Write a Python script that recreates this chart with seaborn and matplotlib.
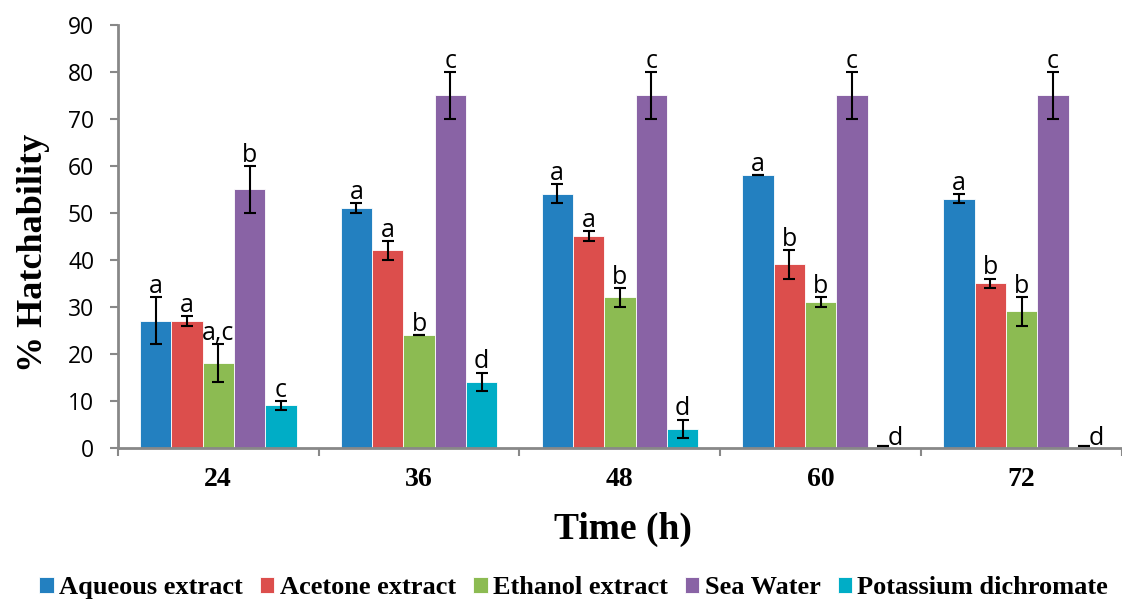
import numpy as np
import pandas as pd
import matplotlib
matplotlib.use("Agg")
import matplotlib.pyplot as plt
import seaborn as sns

times = ["24", "36", "48", "60", "72"]
series = ["Aqueous extract", "Acetone extract", "Ethanol extract", "Sea Water", "Potassium dichromate"]
aqueous = [27, 51, 54, 58, 53]
acetone = [27, 42, 45, 39, 35]
ethanol = [18, 24, 32, 31, 29]
sea_water = [55, 75, 75, 75, 75]
k_dichromate = [9, 14, 4, 0, 0]
err_aqueous = [5, 1, 2, 0, 1]
err_acetone = [1, 2, 1, 3, 1]
err_ethanol = [4, 0, 2, 1, 3]
err_sea = [5, 5, 5, 5, 5]
err_k = [1, 2, 2, 0, 0]
letters_aqueous = ["a", "a", "a", "a", "a"]
letters_acetone = ["a", "a", "a", "b", "b"]
letters_ethanol = ["a,c", "b", "b", "b", "b"]
letters_sea = ["b", "c", "c", "c", "c"]
letters_k = ["c", "d", "d", "d", "d"]
colors = ["#2380C0", "#DC4E4C", "#8CBB52", "#8963A5", "#00ADC6"]

vals = [aqueous, acetone, ethanol, sea_water, k_dichromate]
errs = [err_aqueous, err_acetone, err_ethanol, err_sea, err_k]
lets = [letters_aqueous, letters_acetone, letters_ethanol, letters_sea, letters_k]

rows = []
for s, v in zip(series, vals):
    for t, y in zip(times, v):
        rows.append({"Time": t, "Series": s, "Value": y})
df = pd.DataFrame(rows)

sns.set_style("white")
plt.rcParams["text.color"] = "black"
plt.rcParams["axes.labelcolor"] = "black"
plt.rcParams["xtick.labelcolor"] = "black"
plt.rcParams["ytick.labelcolor"] = "black"

fig = plt.figure(figsize=(11.22, 6.01), dpi=100)
ax = fig.add_axes([0.105, 0.255, 0.895, 0.704])

sns.barplot(data=df, x="Time", y="Value", hue="Series", order=times, hue_order=series,
            palette=colors, width=0.78, errorbar=None, edgecolor="white", linewidth=0.6,
            saturation=1, ax=ax, legend=True)

bar_containers = list(ax.containers)
for i, cont in enumerate(bar_containers):
    for j, bar in enumerate(cont.patches):
        xc = bar.get_x() + bar.get_width() / 2
        h = bar.get_height()
        e = errs[i][j]
        ax.errorbar(xc, h + (0.4 if h == 0 else 0), yerr=e, fmt="none", ecolor="black",
                    elinewidth=1.5, capsize=4.5, capthick=1.5, zorder=4)
        lab = lets[i][j]
        if h == 0:
            ax.text(xc + 0.02, -0.6, lab, ha="left", va="bottom", fontsize=18,
                    family="Open Sans", color="black")
        else:
            ax.text(xc, h + e - 0.4, lab, ha="center", va="bottom", fontsize=18,
                    family="Open Sans", color="black")

ax.set_xlim(-0.5, 4.5)
ax.set_ylim(0, 90)
ax.set_yticks(np.arange(0, 91, 10))
ax.set_yticklabels([str(v) for v in range(0, 91, 10)], family="Open Sans", fontsize=16.5)
ax.tick_params(axis="y", colors="#888888", length=6, width=1.5, direction="out", left=True, pad=11)
ax.tick_params(axis="y", labelcolor="black")
ax.set_xticks(range(5))
ax.set_xticklabels(times, fontsize=20, fontweight="bold", family="Liberation Serif")
ax.tick_params(axis="x", length=0, pad=14, labelcolor="black")
ax.set_xticks(np.arange(-0.5, 5.0, 1.0), minor=True)
ax.tick_params(axis="x", which="minor", length=6, width=1.5, color="#888888", direction="out", bottom=True)

for sp in ["top", "right"]:
    ax.spines[sp].set_visible(False)
for sp in ["left", "bottom"]:
    ax.spines[sp].set_color("#888888")
    ax.spines[sp].set_linewidth(2)

ax.set_ylabel("% Hatchability", fontsize=26, fontweight="bold", family="Liberation Serif", color="black")
ax.yaxis.set_label_coords(-0.068, 0.46)
ax.set_xlabel("Time (h)", fontsize=27, fontweight="bold", family="Liberation Serif", color="black")
ax.xaxis.set_label_coords(0.503, -0.152)

handles, labels = ax.get_legend_handles_labels()
ax.get_legend().remove()
leg = fig.legend(handles, labels, loc="center left", bbox_to_anchor=(0.035, 0.022), ncol=5,
                 frameon=False, prop={"family": "Liberation Serif", "weight": "bold", "size": 19},
                 handlelength=0.55, handleheight=0.55, handletextpad=0.2, columnspacing=0.65,
                 borderpad=0, borderaxespad=0)
for t in leg.get_texts():
    t.set_color("black")

fig.savefig("out.png", dpi=100)
